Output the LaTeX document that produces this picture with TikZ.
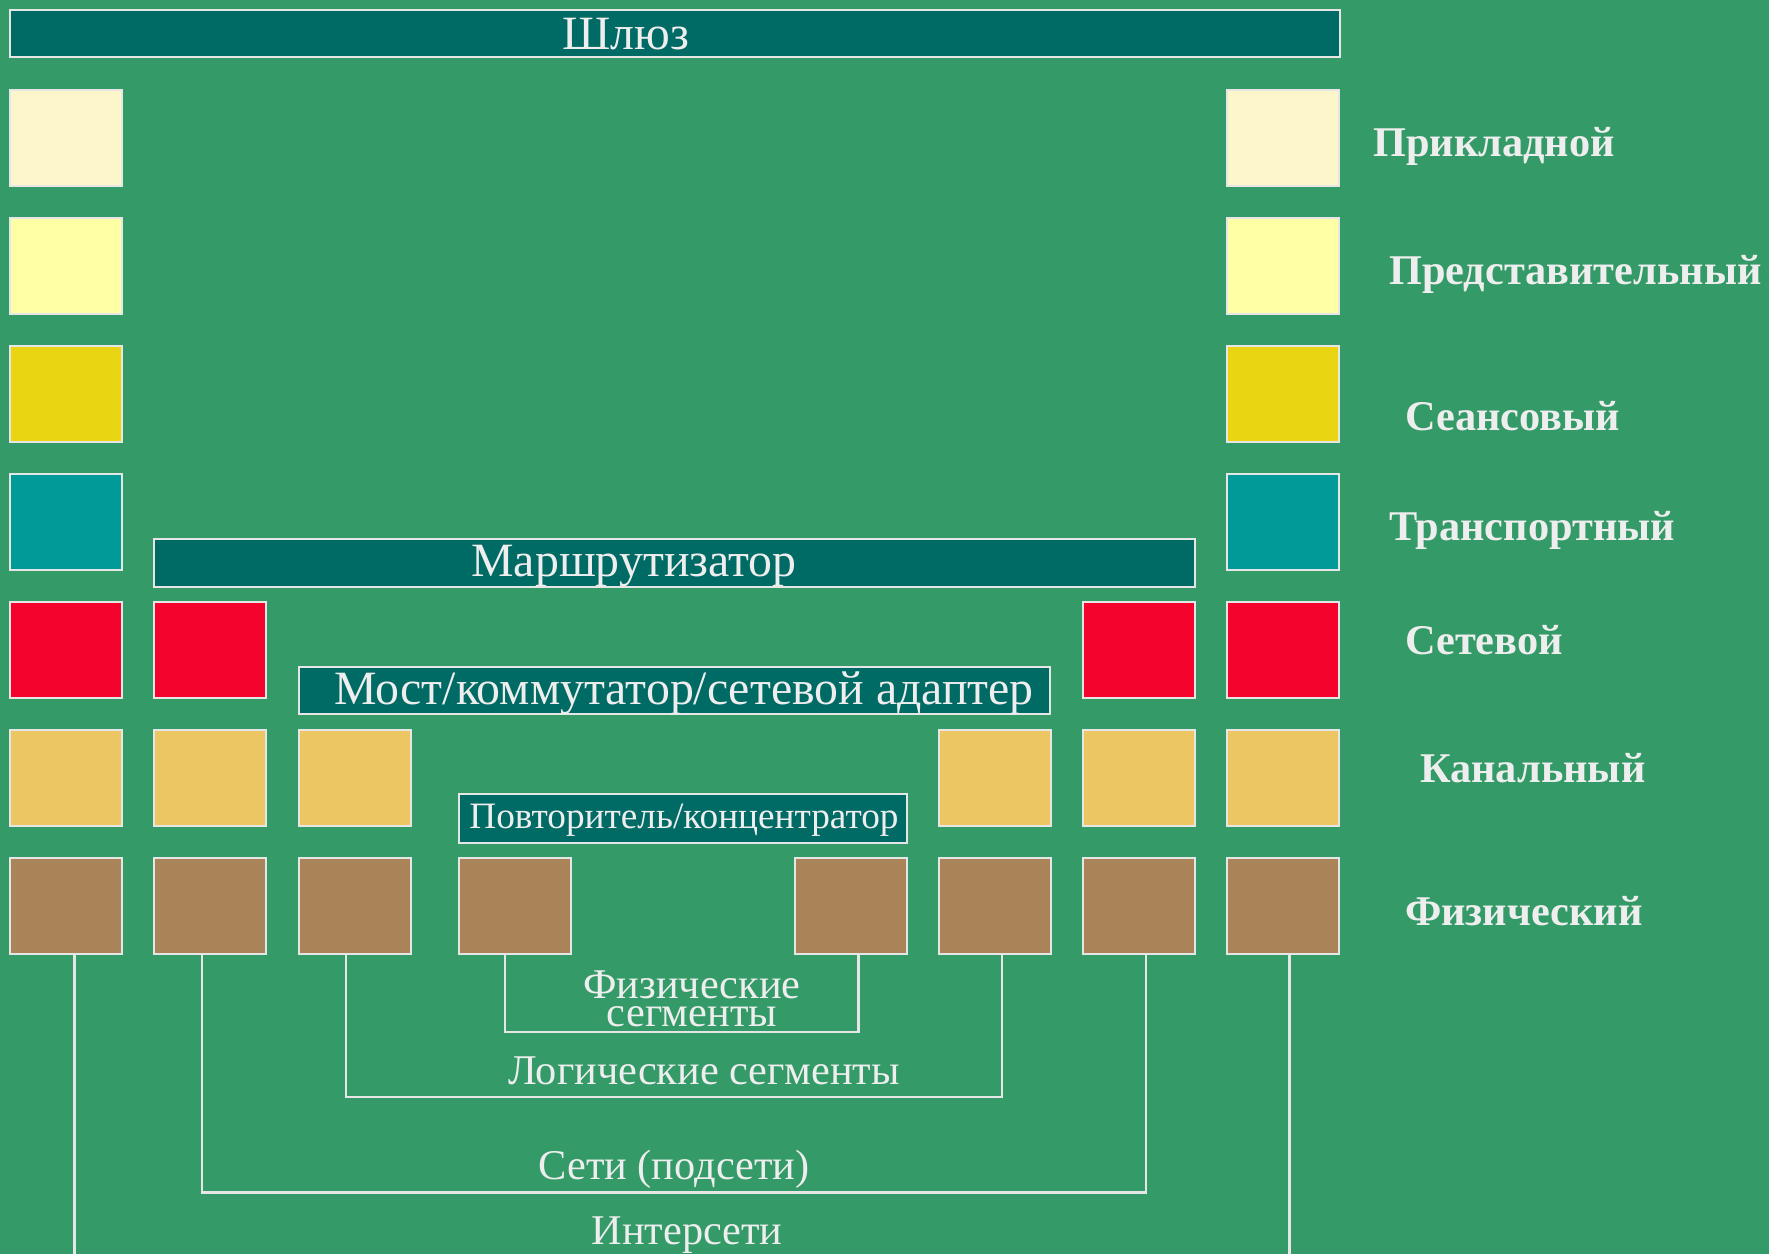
\documentclass[tikz,border=0pt]{standalone}
\usepackage{fontspec}
\setmainfont{Liberation Serif}
\definecolor{bgc}{HTML}{349A68}
\definecolor{barc}{HTML}{006A65}
\definecolor{edgec}{HTML}{E6E6E6}
\definecolor{txc}{HTML}{EEEEEE}
\definecolor{cA}{HTML}{FCF6CA}
\definecolor{cP}{HTML}{FFFFA5}
\definecolor{cS}{HTML}{E9D511}
\definecolor{cT}{HTML}{009A98}
\definecolor{cN}{HTML}{F4042C}
\definecolor{cD}{HTML}{ECC662}
\definecolor{cF}{HTML}{A98459}
\begin{document}
\begin{tikzpicture}[x=1bp,y=-1bp,
  sq/.style={draw=edgec, line width=2bp, minimum width=112bp, minimum height=96bp, anchor=north west, inner sep=0pt},
  barbox/.style={draw=edgec, fill=barc, line width=2bp, anchor=north west, inner sep=0pt},
  bigtxt/.style={text=txc, font=\fontsize{48}{52}\selectfont, inner sep=0pt},
  midtxt/.style={text=txc, font=\fontsize{37.4}{40}\selectfont, inner sep=0pt},
  laytxt/.style={text=txc, font=\fontsize{42.5}{46}\selectfont\bfseries, inner sep=0pt, anchor=west},
  segtxt/.style={text=txc, font=\fontsize{42.5}{28}\selectfont, inner sep=0pt, align=center},
  conn/.style={draw=edgec, line width=2.2bp}]
\fill[bgc] (0,0) rectangle (1769,1254);
\useasboundingbox (0,0) rectangle (1769,1254);

% bars
\node[barbox, minimum width=1330bp, minimum height=47bp] (gw) at (9,9) {};
\node[barbox, minimum width=1041bp, minimum height=48bp] (rt) at (153,538) {};
\node[barbox, minimum width=751bp, minimum height=47bp] (br) at (298,666) {};
\node[barbox, minimum width=448bp, minimum height=49bp] (rp) at (458,793) {};
\node[bigtxt] (gwt) at (626,34) {Шлюз};
\node[bigtxt] (rtt) at (634,566) {Маршрутизатор};
\node[bigtxt] (brt) at (684,693) {Мост/коммутатор/сетевой адаптер};
\node[midtxt] (rpt) at (684,820) {Повторитель/концентратор};

% column 1 (all layers)
\node[sq, fill=cA] (a1) at (9,89) {};
\node[sq, fill=cP] (s1) at (9,217) {};
\node[sq, fill=cS] (e1) at (9,345) {};
\node[sq, fill=cT] (t1) at (9,473) {};
\node[sq, fill=cN] (n1) at (9,601) {};
\node[sq, fill=cD] (d1) at (9,729) {};
\node[sq, fill=cF] (p1) at (9,857) {};
% column 8 (all layers)
\node[sq, fill=cA] (a8) at (1226,89) {};
\node[sq, fill=cP] (s8) at (1226,217) {};
\node[sq, fill=cS] (e8) at (1226,345) {};
\node[sq, fill=cT] (t8) at (1226,473) {};
\node[sq, fill=cN] (n8) at (1226,601) {};
\node[sq, fill=cD] (d8) at (1226,729) {};
\node[sq, fill=cF] (p8) at (1226,857) {};
% columns 2 and 7
\node[sq, fill=cN] (n2) at (153,601) {};
\node[sq, fill=cD] (d2) at (153,729) {};
\node[sq, fill=cF] (p2) at (153,857) {};
\node[sq, fill=cN] (n7) at (1082,601) {};
\node[sq, fill=cD] (d7) at (1082,729) {};
\node[sq, fill=cF] (p7) at (1082,857) {};
% columns 3 and 6
\node[sq, fill=cD] (d3) at (298,729) {};
\node[sq, fill=cF] (p3) at (298,857) {};
\node[sq, fill=cD] (d6) at (938,729) {};
\node[sq, fill=cF] (p6) at (938,857) {};
% columns 4 and 5
\node[sq, fill=cF] (p4) at (458,857) {};
\node[sq, fill=cF] (p5) at (794,857) {};

% layer names
\node[laytxt] (l7) at (1373,146) {Прикладной};
\node[laytxt] (l6) at (1389,274) {Представительный};
\node[laytxt] (l5) at (1405,416) {Сеансовый};
\node[laytxt] (l4) at (1389,530) {Транспортный};
\node[laytxt] (l3) at (1405,640) {Сетевой};
\node[laytxt] (l2) at (1420,768) {Канальный};
\node[laytxt] (l1) at (1405,911) {Физический};

% connectors
\coordinate (i1) at (74.5,1254);
\coordinate (i8) at (1289.5,1254);
\coordinate (w1) at (202,1192.5);
\coordinate (w7) at (1146,1192.5);
\coordinate (g3) at (346,1097);
\coordinate (g6) at (1002,1097);
\coordinate (f4) at (505,1032);
\coordinate (f5) at (858.5,1032);
\draw[conn] (p1.south -| i1) -- (i1);
\draw[conn] (p8.south -| i8) -- (i8);
\draw[conn] (p2.south -| w1) -- (w1) -- (w7) -- (p7.south -| w7);
\draw[conn] (p3.south -| g3) -- (g3) -- (g6) -- (p6.south -| g6);
\draw[conn] (p4.south -| f4) -- (f4) -- (f5) -- (p5.south -| f5);

% segment labels
\node[segtxt] (fs) at (692,999) {Физические\\сегменты};
\node[segtxt] (ls) at (704,1071) {Логические сегменты};
\node[segtxt] (ns) at (674,1169) {Сети (подсети)};
\node[segtxt] (is) at (687,1235) {Интерсети};
\end{tikzpicture}
\end{document}
